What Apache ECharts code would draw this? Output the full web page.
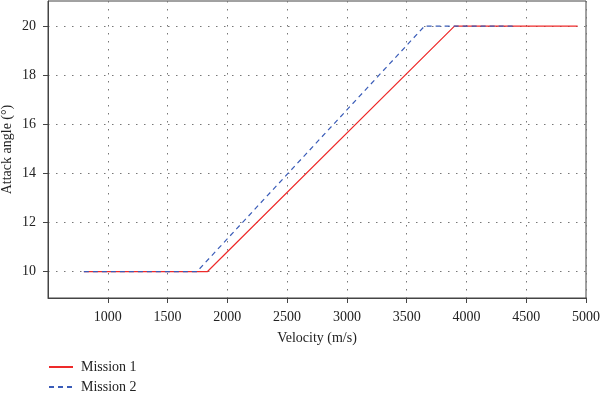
<!DOCTYPE html>
<html>
<head>
<meta charset="utf-8">
<script src="https://cdn.jsdelivr.net/npm/echarts@6/dist/echarts.min.js"></script>
<style>html,body{margin:0;padding:0;background:#fff;}#c{width:600px;height:396px;}</style>
</head>
<body>
<div id="c"></div>
<script>
const mission1X = [800, 1832, 3900, 4930];
const mission1Y = [10, 10, 20, 20];
const mission2X = [800, 1745, 3650, 4420];
const mission2Y = [10, 10, 20, 20];
const yTicks = [10, 12, 14, 16, 18, 20];
const seriesNames = ['Mission 1', 'Mission 2'];

const font = 'Liberation Serif';
const chart = echarts.init(document.getElementById('c'), null, {renderer: 'canvas'});
const pair = (xs, ys) => xs.map((x, i) => [x, ys[i]]);
const grid = {type: [1.5, 6.5], color: '#777'};
chart.setOption({
  animation: false,
  backgroundColor: '#fff',
  grid: {left: 48, right: 14, top: 1, bottom: 98, containLabel: false, outerBoundsMode: 'none',
         show: true, borderColor: '#444', borderWidth: 1},
  xAxis: {
    type: 'value', min: 500, max: 5000, interval: 500,
    name: 'Velocity (m/s)', nameLocation: 'middle', nameGap: 33, nameMoveOverlap: false,
    nameTextStyle: {fontFamily: font, fontSize: 14, color: '#222'},
    axisLine: {lineStyle: {color: '#444'}},
    axisTick: {length: 5, lineStyle: {color: '#444'}},
    axisLabel: {showMinLabel: false, margin: 12, fontFamily: font, fontSize: 14, color: '#222',
                formatter: v => String(v)},
    splitLine: {show: true, lineStyle: grid}
  },
  yAxis: {
    type: 'value', min: 8.93, max: 21.02,
    name: 'Attack angle (°)', nameLocation: 'middle', nameGap: 34, nameMoveOverlap: false,
    nameTextStyle: {fontFamily: font, fontSize: 14, color: '#222'},
    axisLine: {show: true, lineStyle: {color: '#444'}},
    axisTick: {show: true, length: 5, customValues: yTicks, lineStyle: {color: '#444'}},
    axisLabel: {customValues: yTicks, margin: 12, fontFamily: font, fontSize: 14, color: '#222',
                formatter: v => String(v)},
    splitLine: {show: true, lineStyle: grid}
  },
  legend: {
    orient: 'vertical', left: 48, top: 360, padding: 0, itemWidth: 24, itemHeight: 10, itemGap: 6,
    itemStyle: {opacity: 0},
    textStyle: {fontFamily: font, fontSize: 14, color: '#222', padding: [0, 0, 0, 3]},
    data: seriesNames
  },
  series: [
    {name: seriesNames[0], type: 'line', data: pair(mission1X, mission1Y), showSymbol: false, symbol: 'none',
     lineStyle: {color: '#ee2a2a', width: 1.2}, itemStyle: {color: '#ee2a2a'}, z: 2},
    {name: seriesNames[1], type: 'line', data: pair(mission2X, mission2Y), showSymbol: false, symbol: 'none',
     lineStyle: {color: '#3a5cb8', width: 1.2, type: [5, 4]}, itemStyle: {color: '#3a5cb8'}, z: 3}
  ]
});
</script>
</body>
</html>
